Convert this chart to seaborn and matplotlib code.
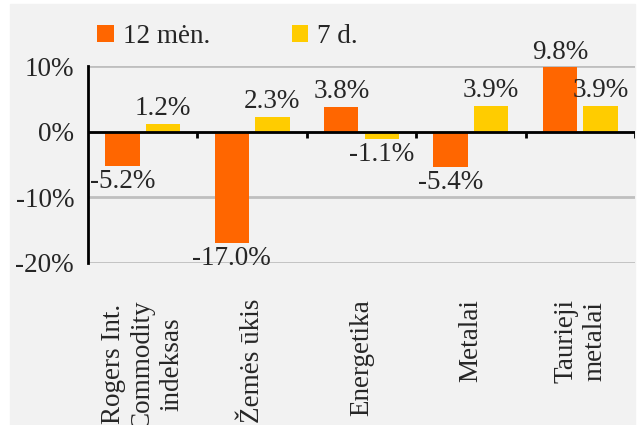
import numpy as np
import pandas as pd
import seaborn as sns
from matplotlib import pyplot as plt
from matplotlib.patches import Rectangle

categories = ["Rogers Int.\nCommodity\nindeksas", "Žemės ūkis", "Energetika",
              "Metalai", "Taurieji\nmetalai"]
series = ["12 mėn.", "7 d."]
values_12m = [-5.2, -17.0, 3.8, -5.4, 9.8]
values_7d = [1.2, 2.3, -1.1, 3.9, 3.9]
colors = ["#FF6600", "#FFCC00"]

df = pd.DataFrame({
    "category": categories * 2,
    "series": [series[0]] * len(categories) + [series[1]] * len(categories),
    "value": values_12m + values_7d,
})

sns.set_style("white")
plt.rcParams["font.family"] = ["Liberation Serif", "DejaVu Serif"]
plt.rcParams["font.size"] = 19.5

fig = plt.figure(figsize=(6.4, 4.25), dpi=100, facecolor="white")
fig.patches.append(Rectangle((10 / 640, 0), 625 / 640, 421 / 425,
                             transform=fig.transFigure, color="#F2F2F2", zorder=-1))
ax = fig.add_axes([88 / 640, 1 - 263 / 425, 547 / 640, 197 / 425])
ax.set_facecolor("#F2F2F2")

sns.barplot(data=df, x="category", y="value", hue="series", hue_order=series,
            palette=colors, width=0.74, gap=0.15, saturation=1, linewidth=0,
            ax=ax, zorder=2)

ax.set_ylim(-20, 10)
ax.set_xlim(-0.5, len(categories) - 0.5)
ax.set_yticks([-20, -10, 0, 10])
ax.set_yticklabels([f"{t}%" for t in [-20, -10, 0, 10]])
ax.yaxis.grid(True, color="#BFBFBF", linewidth=2, zorder=0)
ax.set_axisbelow(True)
ax.axhline(0, color="black", linewidth=2, zorder=4)
ax.vlines(np.arange(len(categories)) + 0.5, 0, -0.9, color="black", linewidth=2, zorder=4)

for s in ["top", "right", "bottom"]:
    ax.spines[s].set_visible(False)
ax.spines["left"].set_color("black")
ax.spines["left"].set_linewidth(2)
ax.tick_params(axis="y", length=6, width=2, color="black", pad=4)
ax.tick_params(axis="x", length=0, pad=26)
for lab in ax.get_xticklabels():
    lab.set_rotation(90)
    lab.set_multialignment("center")
ax.set_xlabel("")
ax.set_ylabel("")

for cont in ax.containers:
    ax.bar_label(cont, fmt="%.1f%%", padding=2, fontsize=19.5)

ax.legend(loc="upper left", bbox_to_anchor=(73 / 640, 1.0), bbox_transform=fig.transFigure,
          ncol=2, frameon=False, handlelength=0.6, handleheight=0.6,
          handletextpad=0.35, columnspacing=3.0, fontsize=19.5)

fig.savefig("out.png", dpi=100, facecolor=fig.get_facecolor())
